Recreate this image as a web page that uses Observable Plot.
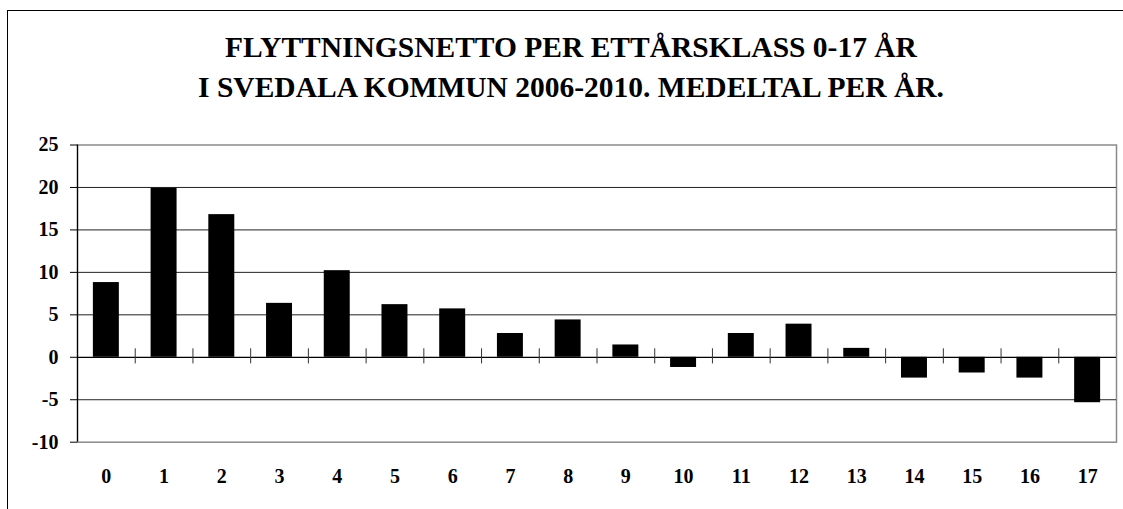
<!DOCTYPE html>
<html>
<head>
<meta charset="utf-8">
<script src="https://cdn.jsdelivr.net/npm/d3@7"></script>
<script src="https://cdn.jsdelivr.net/npm/@observablehq/plot@0.6"></script>
<style>
  html, body { margin: 0; padding: 0; background: #fff; }
  #wrap { position: relative; width: 1123px; height: 509px; overflow: hidden; background: #fff; }
  #border { position: absolute; left: 7px; top: 10px; width: 1300px; height: 700px; border: 1.2px solid #000; box-sizing: border-box; }
  #title { position: absolute; left: 0; top: 27px; width: 1142px; text-align: center;
           font-family: "Liberation Serif", "Times New Roman", serif; font-weight: bold;
           font-size: 29.5px; line-height: 40px; color: #000; white-space: nowrap; }
  #chart { position: absolute; left: 0; top: 0; }
</style>
</head>
<body>
<div id="wrap">
  <div id="border"></div>
  <div id="title">FLYTTNINGSNETTO PER ETTÅRSKLASS 0-17 ÅR<br>I SVEDALA KOMMUN 2006-2010. MEDELTAL PER ÅR.</div>
  <div id="chart"></div>
</div>
<script>
const ages = [0, 1, 2, 3, 4, 5, 6, 7, 8, 9, 10, 11, 12, 13, 14, 15, 16, 17];
const values = [8.8, 19.9, 16.8, 6.35, 10.2, 6.2, 5.7, 2.8, 4.4, 1.45, -1.2, 2.8, 3.9, 1.05, -2.45, -1.85, -2.45, -5.35];
const yTicks = [-10, -5, 0, 5, 10, 15, 20, 25];
const gridValues = [20, 15, 10, 5, -5];

const data = ages.map((a, i) => ({age: a, value: values[i]}));

const W = 1123, H = 509;
const FONT = "'Liberation Serif', 'Times New Roman', serif";
const halfBar = 0.225;

const chart = Plot.plot({
  width: W,
  height: H,
  marginLeft: 77,
  marginRight: 7,
  marginTop: 144.5,
  marginBottom: 67.3,
  style: {fontFamily: FONT, fontWeight: "bold", fontSize: "20px", color: "#000", background: "transparent"},
  x: {type: "linear", domain: [-0.5, 17.5], label: null},
  y: {domain: [-10, 25], label: null},
  marks: [
    Plot.frame({stroke: "#8a8a8a", strokeWidth: 1.5}),
    Plot.ruleY(gridValues, {stroke: "#222", strokeWidth: 1}),
    Plot.rectY(data, {x1: d => d.age - halfBar, x2: d => d.age + halfBar, y: "value", fill: "#000"}),
    Plot.ruleY([0], {stroke: "#000", strokeWidth: 1.2}),
    Plot.ruleX(ages.slice(1), {x: d => d - 0.5, y1: 1.0, y2: -0.78, stroke: "#333", strokeWidth: 1}),
    Plot.ruleX([ages[0]], {x: d => d - 0.5, y1: -10, y2: 25, stroke: "#000", strokeWidth: 1.2}),
    Plot.axisY({ticks: yTicks, tickSize: 7, tickPadding: 12, tickFormat: d => String(d), stroke: "#000", fontSize: 20, fontWeight: "bold", fontFamily: FONT}),
    Plot.axisX({ticks: ages, tickSize: 0, tickPadding: 27, tickFormat: d => String(d), fontSize: 20, fontWeight: "bold", fontFamily: FONT})
  ]
});
document.getElementById("chart").appendChild(chart);
</script>
</body>
</html>
